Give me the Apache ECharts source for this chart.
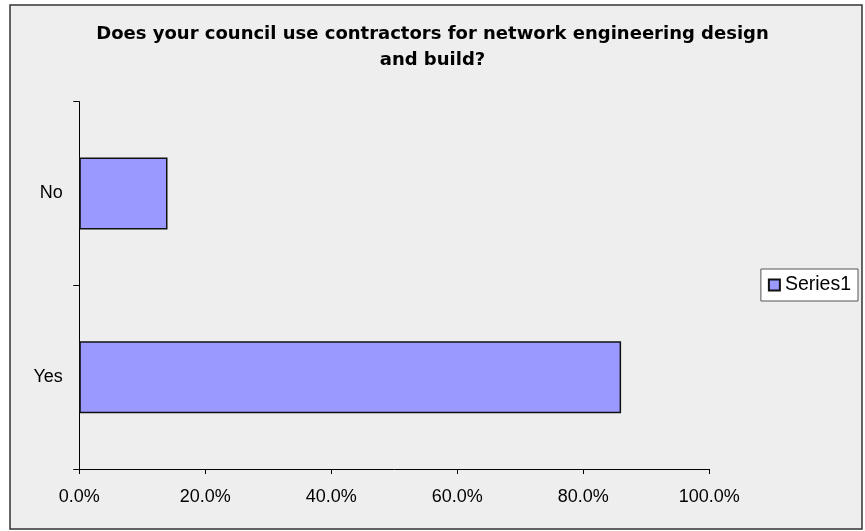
<!DOCTYPE html>
<html><head><meta charset="utf-8">
<script src="https://cdn.jsdelivr.net/npm/echarts@6/dist/echarts.min.js"></script>
<style>html,body{margin:0;padding:0;background:#fff}#c{width:865px;height:531px}</style>
</head><body><div id="c"></div>
<script>
var categories = ['Yes', 'No'];
var seriesName = 'Series1';
var values = [86.0, 14.0];
var xTicks = [0, 20, 40, 60, 80, 100];

var chart = echarts.init(document.getElementById('c'), null, {renderer: 'canvas'});
chart.setOption({
  backgroundColor: '#ffffff',
  animation: false,
  graphic: [{
    type: 'rect', z: -10, silent: true,
    shape: {x: 10, y: 5, width: 852, height: 524},
    style: {fill: '#eeeeee', stroke: '#333333', lineWidth: 1.5}
  }],
  title: {
    text: 'Does your council use contractors for network engineering design\nand build?',
    left: 'center', top: 16,
    textStyle: {fontFamily: 'DejaVu Sans', fontSize: 18, fontWeight: 'bold', color: '#000', lineHeight: 26}
  },
  legend: {
    right: 7, top: 269,
    orient: 'vertical',
    backgroundColor: '#ffffff',
    borderColor: '#555555', borderWidth: 1,
    padding: [6, 7, 6, 7],
    itemWidth: 11, itemHeight: 11, itemGap: 0,
    icon: 'rect',
    textStyle: {fontFamily: 'Liberation Sans, Arial', fontSize: 19.5, color: '#000', lineHeight: 20},
    data: [seriesName]
  },
  grid: {left: 79.3, right: 155.7, top: 101.7, bottom: 62, containLabel: false},
  xAxis: {
    type: 'value', min: xTicks[0], max: xTicks[xTicks.length - 1], interval: 20,
    axisLine: {show: true, lineStyle: {color: '#000', width: 1}},
    axisTick: {show: true, length: 5, lineStyle: {color: '#000'}},
    splitLine: {show: false},
    axisLabel: {
      fontFamily: 'Liberation Sans, Arial', fontSize: 18, color: '#000', margin: 19.5,
      formatter: function (v) { return v.toFixed(1) + '%'; }
    }
  },
  yAxis: {
    type: 'category', data: categories,
    axisLine: {show: true, lineStyle: {color: '#000', width: 1}},
    axisTick: {show: true, length: 6, lineStyle: {color: '#000'}},
    axisLabel: {fontFamily: 'Liberation Sans, Arial', fontSize: 18, color: '#000', margin: 16.5}
  },
  series: [{
    name: seriesName, type: 'bar', data: values,
    barWidth: 72,
    itemStyle: {color: '#9999ff', borderColor: '#111111', borderWidth: 1.5}
  }]
});
</script></body></html>
